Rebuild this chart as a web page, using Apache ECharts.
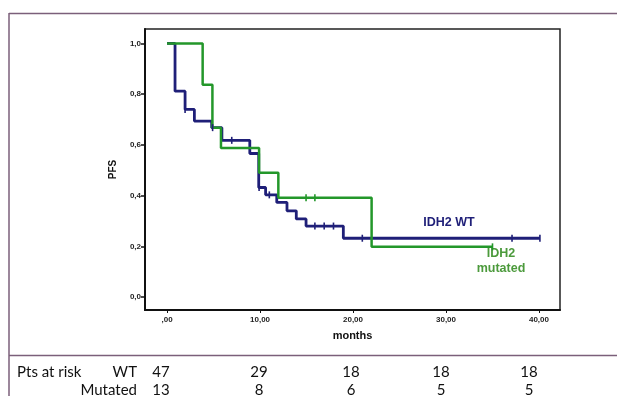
<!DOCTYPE html>
<html>
<head>
<meta charset="utf-8">
<script src="https://cdn.jsdelivr.net/npm/echarts@6/dist/echarts.min.js"></script>
<style>
html,body{margin:0;padding:0;background:#fff;}
#chart{width:617px;height:396px;}
</style>
</head>
<body>
<div id="chart"></div>
<script>
// ---- data ----
var wtTimes   = [0, 0.86, 1.94, 2.94, 4.8, 5.9, 8.9, 9.86, 10.6, 11.8, 12.9, 13.9, 14.95, 18.96, 40.1];
var wtSurv    = [1.0, 0.812, 0.74, 0.694, 0.668, 0.618, 0.566, 0.432, 0.403, 0.373, 0.340, 0.308, 0.280, 0.232, 0.232];
var wtCensT   = [1.94, 4.9, 6.96, 9.9, 11.0, 15.9, 16.9, 17.9, 21.0, 37.1, 40.1];
var wtCensS   = [0.74, 0.668, 0.618, 0.432, 0.403, 0.280, 0.280, 0.280, 0.232, 0.232, 0.232];

var mutTimes  = [0, 3.83, 4.88, 5.8, 9.9, 11.97, 22.0, 35.0];
var mutSurv   = [1.0, 0.837, 0.668, 0.588, 0.49, 0.392, 0.198, 0.198];
var mutCensT  = [14.95, 15.9, 35.0];
var mutCensS  = [0.392, 0.392, 0.198];

var xTicks = [0, 10, 20, 30, 40];
var yTicks = [0, 0.2, 0.4, 0.6, 0.8, 1.0];

var riskLabels = ['Pts at risk', 'WT', 'Mutated'];
var riskWT  = [47, 29, 18, 18, 18];
var riskMut = [13, 8, 6, 5, 5];

// ---- styling / layout ----
var NAVY = '#1f1f78';
var GREEN = '#23972a';
var FRAME = '#7b5f7a';
var riskX = [161, 259, 351, 441, 529];

function pairs(xs, ys){ return xs.map(function(x,i){return [x, ys[i]];}); }

var chart = echarts.init(document.getElementById('chart'), null, {renderer:'canvas'});

var LBL = 'bold 12.5px "Liberation Sans", Arial, sans-serif';
var TBL = '15px Lato, "Open Sans", sans-serif';
var graphics = [
  {type:'line', shape:{x1:9, y1:13.5, x2:617, y2:13.5}, style:{stroke:FRAME, lineWidth:1.5}},
  {type:'line', shape:{x1:9, y1:13, x2:9, y2:396}, style:{stroke:FRAME, lineWidth:1.5}},
  {type:'line', shape:{x1:9, y1:355.5, x2:617, y2:355.5}, style:{stroke:FRAME, lineWidth:1.5}},
  {type:'text', x:449, y:223, style:{text:'IDH2 WT', fill:NAVY, font:LBL, textAlign:'center', textVerticalAlign:'middle'}},
  {type:'text', x:501, y:254, style:{text:'IDH2', fill:'#4c9a3c', font:LBL, textAlign:'center', textVerticalAlign:'middle'}},
  {type:'text', x:501, y:269, style:{text:'mutated', fill:'#4c9a3c', font:LBL, textAlign:'center', textVerticalAlign:'middle'}},
  {type:'text', x:17, y:372, style:{text:riskLabels[0], fill:'#111', font:TBL, textAlign:'left', textVerticalAlign:'middle'}},
  {type:'text', x:137, y:372, style:{text:riskLabels[1], fill:'#111', font:TBL, textAlign:'right', textVerticalAlign:'middle'}},
  {type:'text', x:137, y:390, style:{text:riskLabels[2], fill:'#111', font:TBL, textAlign:'right', textVerticalAlign:'middle'}}
];
riskWT.forEach(function(v,i){
  graphics.push({type:'text', x:riskX[i], y:372, style:{text:String(v), fill:'#111', font:TBL, textAlign:'center', textVerticalAlign:'middle'}});
});
riskMut.forEach(function(v,i){
  graphics.push({type:'text', x:riskX[i], y:390, style:{text:String(v), fill:'#111', font:TBL, textAlign:'center', textVerticalAlign:'middle'}});
});

var option = {
  backgroundColor:'#fff',
  animation:false,
  grid:{left:145, top:29, right:57, bottom:86, show:true, borderColor:'#222', borderWidth:1.5, containLabel:false},
  xAxis:{
    type:'value', min:-2.37, max:42.26,
    name:'months', nameLocation:'middle', nameGap:20,
    nameTextStyle:{fontFamily:'"Liberation Sans", Arial, sans-serif', fontWeight:'bold', fontSize:11, color:'#111'},
    axisLine:{show:true, onZero:false, lineStyle:{color:'#111', width:2}},
    axisTick:{show:true, length:3, customValues:xTicks, lineStyle:{color:'#111'}},
    axisLabel:{customValues:xTicks, margin:6, fontFamily:'"Liberation Sans", Arial, sans-serif', fontWeight:'bold', fontSize:8, color:'#222',
      formatter:function(v){ return v===0 ? ',00' : v.toFixed(2).replace('.', ','); }},
    splitLine:{show:false}
  },
  yAxis:{
    type:'value', min:-0.051, max:1.057,
    name:'PFS', nameLocation:'middle', nameGap:27, nameRotate:90,
    nameTextStyle:{fontFamily:'"Liberation Sans", Arial, sans-serif', fontWeight:'bold', fontSize:10, color:'#111'},
    axisLine:{show:true, onZero:false, lineStyle:{color:'#111', width:2}},
    axisTick:{show:true, length:4, customValues:yTicks, lineStyle:{color:'#111', width:1.5}},
    axisLabel:{customValues:yTicks, margin:4, fontFamily:'"Liberation Sans", Arial, sans-serif', fontWeight:'bold', fontSize:8, color:'#222',
      formatter:function(v){ return v.toFixed(1).replace('.', ','); }},
    splitLine:{show:false}
  },
  series:[
    {type:'line', name:'IDH2 WT', step:'end', data:pairs(wtTimes, wtSurv), showSymbol:false, z:3,
      lineStyle:{color:NAVY, width:2.8}, itemStyle:{color:NAVY}},
    {type:'line', name:'IDH2 mutated', step:'end', data:pairs(mutTimes, mutSurv), showSymbol:false, z:4,
      lineStyle:{color:GREEN, width:2.5}, itemStyle:{color:GREEN}},
    {type:'scatter', data:pairs(wtCensT, wtCensS), symbol:'rect', symbolSize:[1.6,7], z:5,
      itemStyle:{color:NAVY, opacity:1}},
    {type:'scatter', data:pairs(mutCensT, mutCensS), symbol:'rect', symbolSize:[1.6,7], z:5,
      itemStyle:{color:GREEN, opacity:1}}
  ],
  graphic:graphics
};
chart.setOption(option);
</script>
</body>
</html>
